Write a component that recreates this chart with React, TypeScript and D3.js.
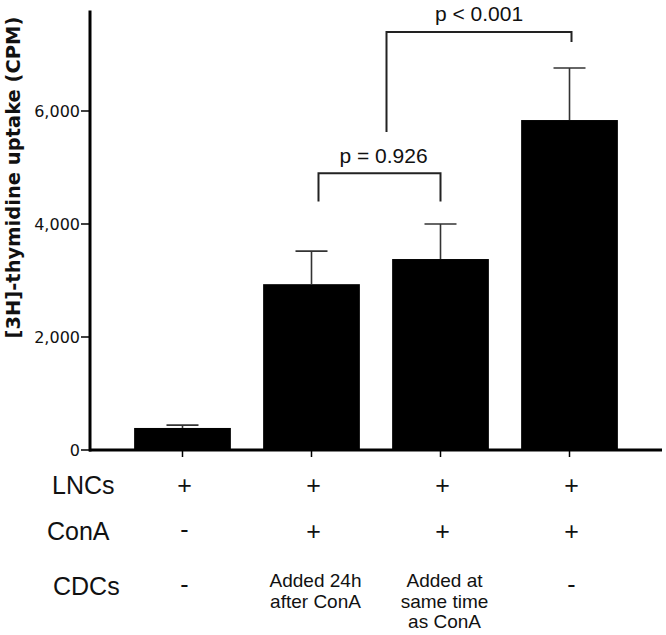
import React, { useEffect, useRef } from "react";
import * as d3 from "d3";

const groups = ["g1", "g2", "g3", "g4"];
const means = [390, 2935, 3380, 5840];
const errUpper = [440, 3520, 4000, 6760];
const yTicks = [0, 2000, 4000, 6000];
const rowLabels = ["LNCs", "ConA", "CDCs"];
const lncs = ["+", "+", "+", "+"];
const cona = ["-", "+", "+", "+"];
const cdcs = [["-"], ["Added 24h", "after ConA"], ["Added at", "same time", "as ConA"], ["-"]];
const p1Label = "p = 0.926";
const p2Label = "p < 0.001";
// bracket levels (data units)
const p1Level = 4900, p1Leg = 4400;
const p2Level = 7400, p2LegLeft = 5630, p2LegRight = 7220;

export default function App() {
  const ref = useRef<SVGSVGElement>(null);
  useEffect(() => {
    const svg = d3.select(ref.current);
    svg.selectAll("*").remove();
    const x = d3.scaleBand<string>().domain(groups).range([90, 662]).paddingInner(0.25).paddingOuter(0.342);
    const y = d3.scaleLinear().domain([0, 6000]).range([450, 111]);
    const yTop = y(7780);
    const cx = (i: number) => (x(groups[i]) as number) + x.bandwidth() / 2;

    // bars
    svg.selectAll("rect.bar").data(means).enter().append("rect")
      .attr("x", (_d, i) => x(groups[i]) as number)
      .attr("y", (d) => y(d))
      .attr("width", x.bandwidth())
      .attr("height", (d) => y(0) - y(d))
      .attr("fill", "#000");

    // error bars
    const eb = svg.append("g").attr("stroke", "#333").attr("stroke-width", 1.6);
    errUpper.forEach((e, i) => {
      eb.append("line").attr("x1", cx(i)).attr("x2", cx(i)).attr("y1", y(means[i])).attr("y2", y(e));
      eb.append("line").attr("x1", cx(i) - 16).attr("x2", cx(i) + 16).attr("y1", y(e)).attr("y2", y(e));
    });

    // y axis
    const ya = svg.append("g").attr("transform", "translate(90,0)");
    ya.append("line").attr("x1", 0).attr("x2", 0).attr("y1", yTop).attr("y2", y(0) + 1.5).attr("stroke", "#000").attr("stroke-width", 3);
    yTicks.forEach((t) => {
      ya.append("line").attr("x1", -9).attr("x2", 0).attr("y1", y(t)).attr("y2", y(t)).attr("stroke", "#000").attr("stroke-width", 1.5);
      ya.append("text").attr("x", -10).attr("y", y(t)).attr("dy", "0.36em").attr("text-anchor", "end")
        .attr("font-family", "DejaVu Sans").attr("font-size", 16).attr("fill", "#111").text(d3.format(",")(t));
    });
    svg.append("text").attr("transform", `translate(19.5,${(12 + 343) / 2}) rotate(-90)`).attr("text-anchor", "middle")
      .attr("font-family", "DejaVu Sans").attr("font-weight", "bold").attr("font-size", 19.5).attr("fill", "#111")
      .text("[3H]-thymidine uptake (CPM)");

    // x axis
    svg.append("line").attr("x1", 89).attr("x2", 662).attr("y1", y(0)).attr("y2", y(0)).attr("stroke", "#000").attr("stroke-width", 3);
    groups.forEach((_g, i) => {
      svg.append("line").attr("x1", cx(i)).attr("x2", cx(i)).attr("y1", y(0)).attr("y2", y(0) + 7).attr("stroke", "#000").attr("stroke-width", 1.5);
    });

    // comparison 1: bar 2 vs bar 3
    const a1 = cx(1) + 7, b1 = cx(2);
    svg.append("path")
      .attr("d", `M${a1},${y(p1Leg)}V${y(p1Level)}H${b1}V${y(p1Leg)}`)
      .attr("fill", "none").attr("stroke", "#222").attr("stroke-width", 2);
    svg.append("text").attr("x", (a1 + b1) / 2 + 4).attr("y", y(p1Level) - 10)
      .attr("text-anchor", "middle").attr("font-family", "Liberation Sans").attr("font-size", 21).attr("fill", "#111").text(p1Label);

    // comparison 2: from bracket 1 to bar 4
    const a2 = (a1 + b1) / 2 + 7, b2 = cx(3) + 2;
    svg.append("path")
      .attr("d", `M${a2},${y(p2LegLeft)}V${y(p2Level)}H${b2}V${y(p2LegRight)}`)
      .attr("fill", "none").attr("stroke", "#222").attr("stroke-width", 2);
    svg.append("text").attr("x", (a2 + b2) / 2) .attr("y", y(p2Level) - 11)
      .attr("text-anchor", "middle").attr("font-family", "Liberation Sans").attr("font-size", 21).attr("fill", "#111").text(p2Label);

    // table
    const rowY = [494, 540, 595];
    const rowX = [52, 47, 53];
    rowLabels.forEach((r, i) => {
      svg.append("text").attr("x", rowX[i]).attr("y", rowY[i]).attr("font-family", "Liberation Sans").attr("font-size", 25).attr("fill", "#111").text(r);
    });
    [lncs, cona].forEach((row, ri) => {
      row.forEach((s, i) => {
        svg.append("text").attr("x", cx(i) + 2).attr("y", rowY[ri] - (s === "-" ? 2 : 0)).attr("text-anchor", "middle")
          .attr("font-family", "Liberation Sans").attr("font-size", 25).attr("fill", "#111").text(s);
      });
    });
    cdcs.forEach((lines, i) => {
      if (lines.length === 1) {
        svg.append("text").attr("x", cx(i) + 2).attr("y", rowY[2] - 2).attr("text-anchor", "middle")
          .attr("font-family", "Liberation Sans").attr("font-size", 25).attr("fill", "#111").text(lines[0]);
      } else {
        lines.forEach((l, j) => {
          svg.append("text").attr("x", cx(i) + 4).attr("y", 587 + j * 20.5).attr("text-anchor", "middle")
            .attr("font-family", "Liberation Sans").attr("font-size", 19).attr("fill", "#111").text(l);
        });
      }
    });
  }, []);
  return <svg ref={ref} width={666} height={635} style={{ position: "absolute", left: 0, top: 0, background: "#fff" }} />;
}
